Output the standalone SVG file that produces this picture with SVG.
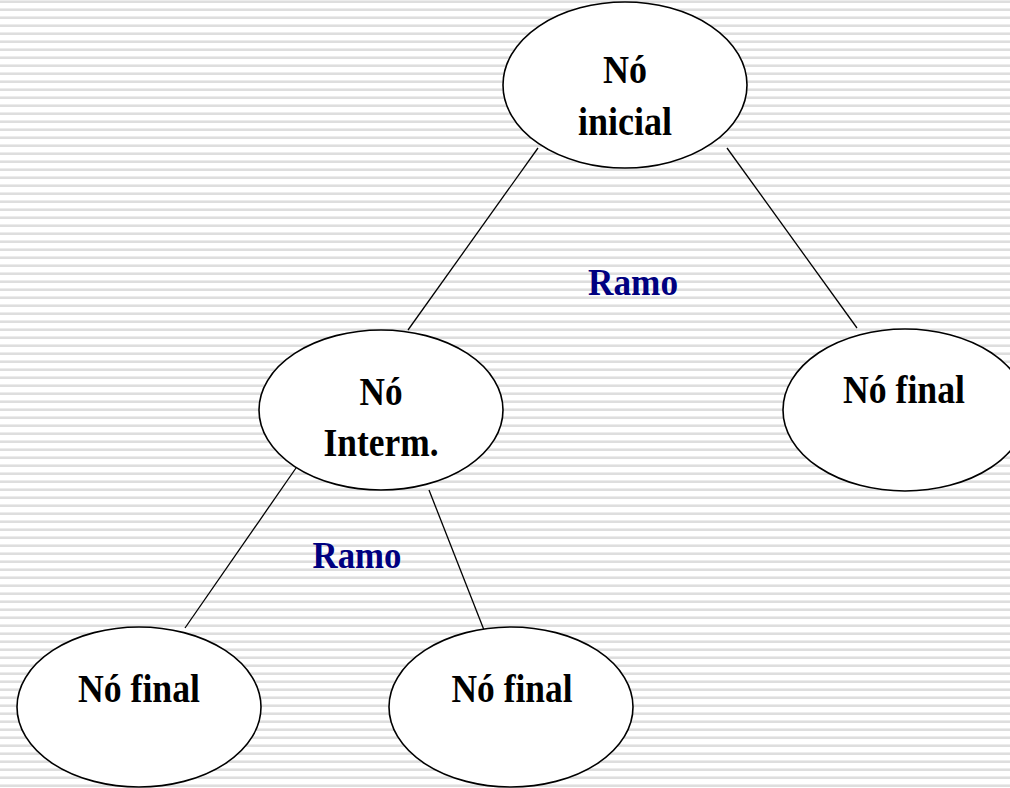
<svg xmlns="http://www.w3.org/2000/svg" width="1010" height="788" viewBox="0 0 1010 788">
  <defs>
    <pattern id="stripes" x="0" y="0" width="8" height="8" patternUnits="userSpaceOnUse">
      <rect x="0" y="0" width="8" height="8" fill="#ffffff"/>
      <rect x="0" y="0" width="8" height="1" fill="#ececec"/>
      <rect x="0" y="1" width="8" height="2" fill="#dedede"/>
    </pattern>
    <style>
      .node { fill: #ffffff; stroke: #000000; stroke-width: 1.6; }
      .edge { stroke: #000000; stroke-width: 1.3; fill: none; }
      .lbl { font-family: "Liberation Serif", "Times New Roman", serif; font-weight: bold; font-size: 41px; fill: #000000; text-anchor: middle; }
      .ramo { font-family: "Liberation Serif", "Times New Roman", serif; font-weight: bold; font-size: 38px; fill: #000080; text-anchor: middle; }
    </style>
  </defs>
  <rect x="0" y="0" width="1010" height="788" fill="url(#stripes)"/>

  <g id="connectors">
    <line class="edge" x1="538" y1="148" x2="408" y2="330"/>
    <line class="edge" x1="727" y1="148" x2="857" y2="328"/>
    <line class="edge" x1="296" y1="468" x2="185" y2="628"/>
    <line class="edge" x1="429" y1="490" x2="484" y2="630"/>
    <text class="ramo" x="633" y="295" textLength="90" lengthAdjust="spacingAndGlyphs">Ramo</text>
    <text class="ramo" x="357" y="568" textLength="89" lengthAdjust="spacingAndGlyphs">Ramo</text>
  </g>

  <g id="no-inicial">
    <ellipse class="node" cx="625" cy="85" rx="122" ry="83"/>
    <text class="lbl" x="625" y="83" textLength="44" lengthAdjust="spacingAndGlyphs">Nó</text>
    <text class="lbl" x="625" y="135" textLength="94" lengthAdjust="spacingAndGlyphs">inicial</text>
  </g>

  <g id="no-interm">
    <ellipse class="node" cx="381" cy="410" rx="122" ry="80"/>
    <text class="lbl" x="381" y="405" textLength="43" lengthAdjust="spacingAndGlyphs">Nó</text>
    <text class="lbl" x="381" y="456" textLength="115" lengthAdjust="spacingAndGlyphs">Interm.</text>
  </g>

  <g id="no-final-right">
    <ellipse class="node" cx="905" cy="410" rx="122" ry="81"/>
    <text class="lbl" x="904" y="403" textLength="122" lengthAdjust="spacingAndGlyphs">Nó final</text>
  </g>

  <g id="no-final-left">
    <ellipse class="node" cx="139" cy="707" rx="122" ry="80"/>
    <text class="lbl" x="139" y="702" textLength="122" lengthAdjust="spacingAndGlyphs">Nó final</text>
  </g>

  <g id="no-final-mid">
    <ellipse class="node" cx="511" cy="707" rx="122" ry="80"/>
    <text class="lbl" x="512" y="702" textLength="121" lengthAdjust="spacingAndGlyphs">Nó final</text>
  </g>
</svg>
